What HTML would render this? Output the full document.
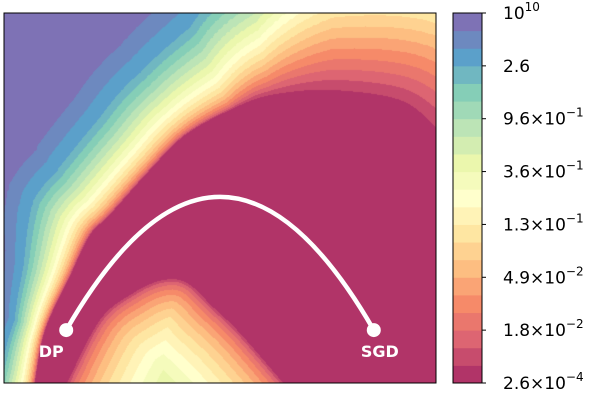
<!DOCTYPE html>
<html><head><meta charset="utf-8">
<style>
body{margin:0;background:#fff;width:600px;height:400px;overflow:hidden;position:relative;font-family:"DejaVu Sans","Liberation Sans",sans-serif;}
#plot{position:absolute;left:4px;top:13px;}
svg{position:absolute;left:0;top:0;}
</style></head>
<body>
<canvas id="plot" width="432" height="370"></canvas>
<svg id="ov" width="600" height="400"></svg>
<script>
// ---- data ----
// basin (lowest level) boundary, in plot fraction coords [u, v] (v=0 top)
const basinU = [0.071,0.095,0.153,0.199,0.245,0.338,0.419,0.523,0.616,0.755,0.917,1.0];
const basinV = [1.0,0.857,0.710,0.600,0.545,0.424,0.330,0.262,0.222,0.208,0.235,0.308];
// growth of the level field away from the basin: d = a*k + b*k^2
const basinGrowthA = [0.3,0.35,0.4,0.5,0.5,0.5,0.6,1,4,10,12,14];
const basinGrowthB = [0.11,0.09,0.15,0.2,0.21,0.22,0.23,0.26,0.18,0.05,0,0];
// lower bump outer boundary
const bumpU = [0.146,0.222,0.299,0.368,0.424,0.484,0.546,0.646];
const bumpV = [1.0,0.830,0.757,0.722,0.730,0.795,0.865,1.0];
const bumpGrowthA = 2, bumpGrowthB = 0.48;
const nLevels = 21;
// path endpoints and peak
const pathU = [0.144,0.500,0.856];
const pathV = [0.857,0.497,0.857];
const pathLabels = ["DP","","SGD"];
const cbTicks = ["10^10","2.6","9.6×10^-1","3.6×10^-1","1.3×10^-1","4.9×10^-2","1.8×10^-2","2.6×10^-4"];
const cbTickLevels = [21,18,15,12,9,6,3,0];

// ---- axes ----
const PX=4,PY=13,PW=432,PH=370;
const sx=u=>PX+u*PW, sy=v=>PY+v*PH;

const spectral=["#9e0142","#d53e4f","#f46d43","#fdae61","#fee08b","#ffffbf","#e6f598","#abdda4","#66c2a5","#3288bd","#5e4fa2"];
function hex(h){return [1,3,5].map(i=>parseInt(h.substr(i,2),16));}
const sp=spectral.map(hex);
function cmap(t){const x=t*10,i=Math.min(9,Math.floor(x)),f=x-i;
 return sp[i].map((c,k)=>Math.round((c+(sp[i+1][k]-c)*f)*0.8+255*0.2));}
const levelColors=[];for(let i=0;i<nLevels;i++)levelColors.push(cmap(i/(nLevels-1)));

function densify(xs,ys,extra,n){const X=[],Y=[],E=extra.map(()=>[]);const m=xs.length;
 for(let i=0;i<m-1;i++){const i0=Math.max(0,i-1),i3=Math.min(m-1,i+2);
  for(let s=0;s<n;s++){const t=s/n,t2=t*t,t3=t2*t;
   const cr=(p0,p1,p2,p3)=>0.5*(2*p1+(-p0+p2)*t+(2*p0-5*p1+4*p2-p3)*t2+(-p0+3*p1-3*p2+p3)*t3);
   X.push(cr(xs[i0],xs[i],xs[i+1],xs[i3]));Y.push(cr(ys[i0],ys[i],ys[i+1],ys[i3]));
   extra.forEach((e,j)=>E[j].push(e[i]+(e[i+1]-e[i])*t));}}
 X.push(xs[m-1]);Y.push(ys[m-1]);extra.forEach((e,j)=>E[j].push(e[m-1]));
 return {X,Y,E};}
function polyNear(P,x,y){let best=1e9,a=0,b=0;const xs=P.X,ys=P.Y;
 for(let i=0;i<xs.length-1;i++){const ax=xs[i],ay=ys[i],dx=xs[i+1]-ax,dy=ys[i+1]-ay;
  let t=((x-ax)*dx+(y-ay)*dy)/(dx*dx+dy*dy);t=Math.max(0,Math.min(1,t));
  const ex=ax+t*dx-x,ey=ay+t*dy-y,d=ex*ex+ey*ey;
  if(d<best){best=d;if(P.E.length){a=P.E[0][i]+(P.E[0][i+1]-P.E[0][i])*t;b=P.E[1][i]+(P.E[1][i+1]-P.E[1][i])*t;}}}
 return [Math.sqrt(best),a,b];}
function interpY(xs,ys,x){for(let i=0;i<xs.length-1;i++){if(x>=xs[i]&&x<=xs[i+1]){const f=(x-xs[i])/(xs[i+1]-xs[i]);return ys[i]+f*(ys[i+1]-ys[i]);}}return null;}
function levelOf(d,a,b){let k=b>1e-6?(-a+Math.sqrt(a*a+4*b*d))/(2*b):d/a;
 if(k>17)k=17+(k-17)*0.55;
 return Math.min(nLevels-1,Math.max(1,Math.ceil(k)));}

const B=densify(basinU.map(sx),basinV.map(sy),[basinGrowthA,basinGrowthB],10);
const U=densify(bumpU.map(sx),bumpV.map(sy),[],10);
const cv=document.getElementById('plot'),ctx=cv.getContext('2d');
const img=ctx.createImageData(PW,PH);
for(let j=0;j<PH;j++)for(let i=0;i<PW;i++){
 const x=PX+i+0.5,y=PY+j+0.5;let lev=0;
 const yb=interpY(B.X,B.Y,x);
 if(yb===null||y<yb){const r=polyNear(B,x,y);lev=levelOf(r[0],r[1],r[2]);}
 else{const yu=interpY(U.X,U.Y,x);
  if(yu!==null&&y>yu){const r=polyNear(U,x,y);lev=levelOf(r[0],bumpGrowthA,bumpGrowthB);}}
 const c=levelColors[lev],k=(j*PW+i)*4;img.data[k]=c[0];img.data[k+1]=c[1];img.data[k+2]=c[2];img.data[k+3]=255;}
ctx.putImageData(img,0,0);

// ---- overlay ----
const NS="http://www.w3.org/2000/svg",ov=document.getElementById('ov');
function el(t,a,p){const e=document.createElementNS(NS,t);for(const k in a)e.setAttribute(k,a[k]);(p||ov).appendChild(e);return e;}
const frame=el('rect',{x:PX,y:PY,width:PW,height:PH,fill:'none',stroke:'#000','stroke-width':1});


const x0=sx(pathU[0]),y0=sy(pathV[0]),x2=sx(pathU[2]),y2=sy(pathV[2]),xm=sx(pathU[1]),ym=sy(pathV[1]);
const cx=2*xm-(x0+x2)/2,cy=2*ym-(y0+y2)/2;
const curve=el('path',{d:`M${x0},${y0} Q${cx},${cy} ${x2},${y2}`,fill:'none',stroke:'#fff','stroke-width':4.5});


[0,2].forEach(i=>{
 const d=el('circle',{cx:sx(pathU[i]),cy:sy(pathV[i]),r:7,fill:'#fff'});
 
 
 const t=el('text',{x:sx(pathU[i])+(i==0?-15:6),y:sy(pathV[i])+27,fill:'#fff','font-size':16,'font-weight':'bold','text-anchor':'middle'});
 t.textContent=pathLabels[i];
 
 
});
const CBX=453,CBW=29,bh=PH/nLevels;
const cb=el('g',{});


levelColors.forEach((c,i)=>{
 const r=el('rect',{x:CBX,y:PY+PH-(i+1)*bh,width:CBW,height:bh+0.5,fill:`rgb(${c.join(',')})`},cb);
 
 
});
el('rect',{x:CBX,y:PY,width:CBW,height:PH,fill:'none',stroke:'#000','stroke-width':1},cb);
cbTicks.forEach((lab,i)=>{
 const y=PY+PH-cbTickLevels[i]*bh;
 el('line',{x1:CBX+CBW,x2:CBX+CBW+4,y1:y,y2:y,stroke:'#000'},cb);
 const t=el('text',{x:503,y:y+6,'font-size':17,fill:'#000'},cb);
 
 
 const m=lab.split('^');
 if(m.length==1){t.textContent=m[0];}
 else{const a=el('tspan',{},t);a.textContent=m[0];const b=el('tspan',{dy:-8,'font-size':12},t);b.textContent=m[1].replace('-','−');}
});
</script>
</body></html>
